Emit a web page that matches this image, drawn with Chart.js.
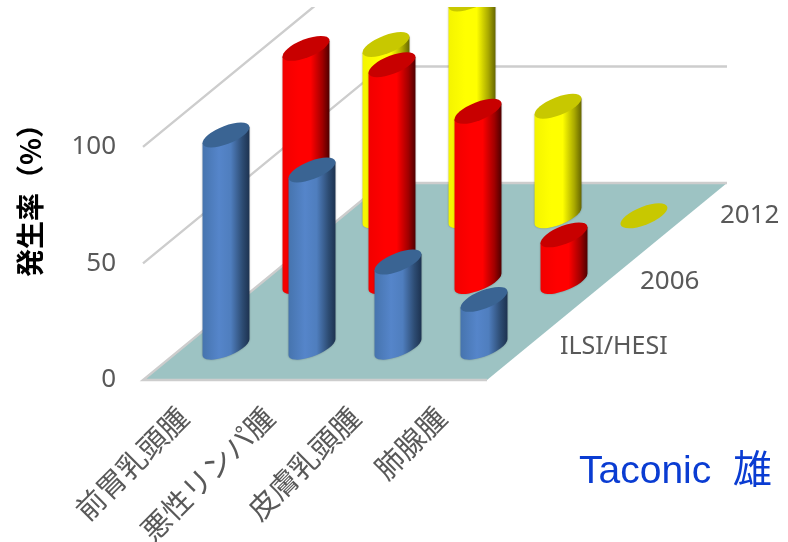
<!DOCTYPE html>
<html lang="ja">
<head>
<meta charset="utf-8">
<title>Taconic 雄</title>
<script src="https://cdn.jsdelivr.net/npm/chart.js@4/dist/chart.umd.min.js"></script>
<style>
  html, body { margin: 0; padding: 0; background: #fff; }
  canvas { display: block; }
</style>
</head>
<body>
<canvas id="incidenceChart" width="788" height="542"></canvas>
<script>
// 腫瘍の発生率 (%)
const categories = ['前胃乳頭腫', '悪性リンパ腫', '皮膚乳頭腫', '肺腺腫'];
const seriesNames = ['ILSI/HESI', '2006', '2012'];
const ilsiValues = [91, 76, 36.5, 20.5];
const values2006 = [100, 93, 73, 20];
const values2012 = [73.5, 93, 47, 0];
const yTicks = [0, 50, 100];

const GRAY_TEXT = '#595959';
const JP_FONT = '"Noto Sans CJK JP", "Noto Sans", sans-serif';

// 奥行き方向のずらし量 (床の右奥 - 右手前)
const DEPTH_X = 240;
const DEPTH_Y = 197;
const ROWS = seriesNames.length;

const cylinderColors = [
    { top: '#3A6493', stops: ['#4674AE', '#5585CA', '#4F7EBE', '#2D4C73', '#1D3250'] },
    { top: '#C80000', stops: ['#F20000', '#FF0000', '#FF0000', '#A00000', '#4F0000'] },
    { top: '#C8C800', stops: ['#F4F400', '#FFFF00', '#FFFF00', '#A8A800', '#666600'] }
];

function rowOffset(row) {
    const k = (row + 0.5) / ROWS;
    return { x: DEPTH_X * k, y: DEPTH_Y * k };
}

// 床面に沿って傾いた円の一部をパスに追加する
function addFloorArc(ctx, cx, cy, r, vx, vy, from, to, ccw) {
    ctx.save();
    ctx.transform(r, 0, vx, vy, cx, cy);
    ctx.arc(0, 0, 1, from, to, ccw);
    ctx.restore();
}

function drawCylinder(ctx, cx, yTop, yBase, r, colors) {
    const vx = DEPTH_X / ROWS * 0.187;
    const vy = -DEPTH_Y / ROWS * 0.19;
    const hw = Math.sqrt(r * r + vx * vx);
    const t0 = Math.atan2(vx, r);
    const dy = vy * Math.sin(t0);

    if (yBase - yTop > 0.5) {
        const grad = ctx.createLinearGradient(cx - hw, 0, cx + hw, 0);
        [0, 0.35, 0.6, 0.85, 1].forEach((p, i) => grad.addColorStop(p, colors.stops[i]));
        ctx.save();
        ctx.shadowColor = 'rgba(0,0,0,0.3)';
        ctx.shadowBlur = 2;
        ctx.beginPath();
        ctx.moveTo(cx + hw, yTop + dy);
        ctx.lineTo(cx + hw, yBase + dy);
        addFloorArc(ctx, cx, yBase, r, vx, vy, t0, t0 - Math.PI, true);
        ctx.lineTo(cx - hw, yTop - dy);
        ctx.closePath();
        ctx.fillStyle = grad;
        ctx.fill();
        ctx.restore();
    }

    // 上面
    ctx.beginPath();
    addFloorArc(ctx, cx, yTop, r, vx, vy, 0, Math.PI * 2, false);
    ctx.closePath();
    ctx.fillStyle = colors.top;
    ctx.fill();
}

const scene3d = {
    id: 'scene3d',
    // 床と目盛線
    beforeDatasetsDraw(chart) {
        const { ctx, chartArea, scales } = chart;
        const left = chartArea.left, right = chartArea.right, y0 = scales.y.getPixelForValue(0);
        ctx.save();
        ctx.beginPath();
        ctx.rect(0, chartArea.top, chart.width, chart.height);
        ctx.clip();

        ctx.beginPath();
        ctx.moveTo(left, y0);
        ctx.lineTo(right, y0);
        ctx.lineTo(right + DEPTH_X, y0 - DEPTH_Y);
        ctx.lineTo(left + DEPTH_X, y0 - DEPTH_Y);
        ctx.closePath();
        ctx.fillStyle = '#9DC3C3';
        ctx.fill();

        ctx.strokeStyle = '#CDCDCD';
        ctx.lineWidth = 2.4;
        yTicks.forEach(v => {
            const y = scales.y.getPixelForValue(v);
            ctx.beginPath();
            if (v === 0) {
                ctx.moveTo(right, y);
                ctx.lineTo(left, y);
            } else {
                ctx.moveTo(left, y);
            }
            ctx.lineTo(left + DEPTH_X, y - DEPTH_Y);
            ctx.lineTo(right + DEPTH_X, y - DEPTH_Y);
            ctx.stroke();
        });
        ctx.restore();
    },
    // 円柱は奥の系列から順に描く
    afterDatasetsDraw(chart) {
        const { ctx, chartArea, scales } = chart;
        ctx.save();
        ctx.beginPath();
        ctx.rect(0, chartArea.top, chart.width, chart.height);
        ctx.clip();
        for (let row = ROWS - 1; row >= 0; row--) {
            const off = rowOffset(row);
            chart.getDatasetMeta(row).data.forEach(bar => {
                const p = bar.getProps(['x', 'y', 'base', 'width'], true);
                drawCylinder(ctx, p.x + off.x, p.y - off.y, p.base - off.y, p.width / 2, cylinderColors[row]);
            });
        }
        ctx.restore();

        // 奥行き軸のラベル
        const y0 = scales.y.getPixelForValue(0);
        ctx.save();
        ctx.fillStyle = GRAY_TEXT;
        ctx.textAlign = 'left';
        ctx.textBaseline = 'middle';
        seriesNames.forEach((name, row) => {
            const off = rowOffset(row);
            ctx.font = (row === 0 ? '25px' : '26px') + ' "Noto Sans", sans-serif';
            ctx.fillText(name, chartArea.right + off.x + 33, y0 - off.y);
        });

        ctx.fillStyle = '#0A3CD2';
        ctx.textBaseline = 'alphabetic';
        ctx.font = '39px "Liberation Sans", "Noto Sans CJK JP", sans-serif';
        ctx.fillText('Taconic  雄', 579, 483);
        ctx.restore();
    }
};

new Chart(document.getElementById('incidenceChart'), {
    type: 'bar',
    data: {
        labels: categories,
        datasets: [ilsiValues, values2006, values2012].map((values, i) => ({
            label: seriesNames[i],
            data: values,
            backgroundColor: 'transparent',
            borderWidth: 0,
            grouped: false,
            barPercentage: 0.42,
            categoryPercentage: 1
        }))
    },
    options: {
        responsive: false,
        animation: false,
        layout: { padding: { top: 7, right: 301, left: 0, bottom: 0 } },
        plugins: { legend: { display: false }, title: { display: false }, tooltip: { enabled: false } },
        scales: {
            x: {
                grid: { display: false },
                border: { display: false },
                afterFit(scale) {
                    scale.height = 162;
                    scale.paddingLeft = 0;
                    scale.paddingRight = 0;
                },
                ticks: {
                    autoSkip: false,
                    minRotation: 45,
                    maxRotation: 45,
                    padding: 12,
                    labelOffset: -3,
                    color: GRAY_TEXT,
                    font: { family: JP_FONT, size: 29 }
                }
            },
            y: {
                min: 0,
                max: 160,
                grid: { display: false },
                border: { display: false },
                afterFit(scale) {
                    scale.width = 143;
                    scale.paddingTop = 0;
                    scale.paddingBottom = 0;
                },
                afterBuildTicks(scale) { scale.ticks = yTicks.map(v => ({ value: v })); },
                title: {
                    display: true,
                    text: '発生率（%）',
                    color: '#000000',
                    padding: { top: 14, bottom: 0 },
                    font: { family: JP_FONT, size: 28, weight: 'bold' }
                },
                ticks: {
                    padding: 19,
                    color: GRAY_TEXT,
                    font: { family: '"Noto Sans", sans-serif', size: 26 }
                }
            }
        }
    },
    plugins: [scene3d]
});
</script>
</body>
</html>
